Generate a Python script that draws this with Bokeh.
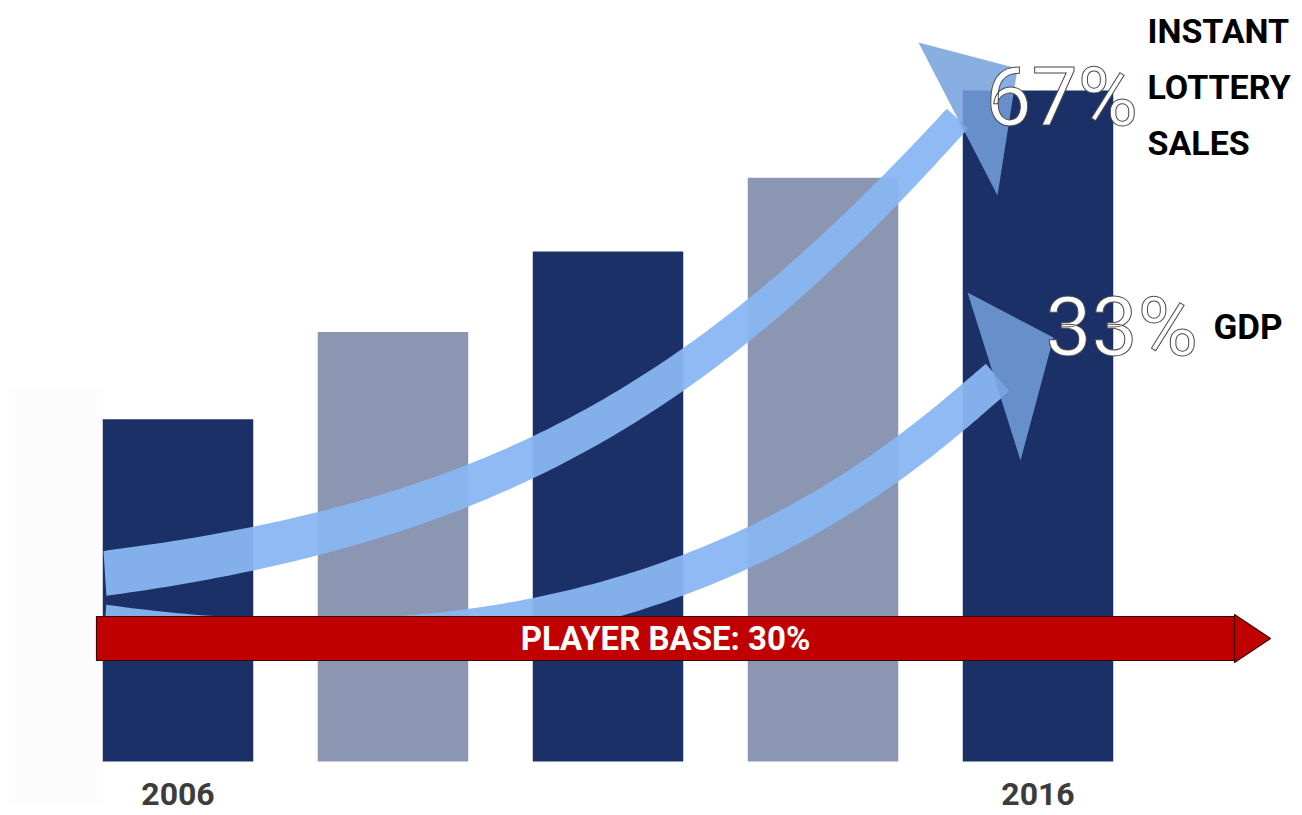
import numpy as np
from bokeh.plotting import figure
from bokeh.models import Range1d, ColumnDataSource
from bokeh.core.properties import value
from bokeh.embed import file_html
from bokeh.resources import INLINE

# ---------------- data ----------------
BAR_INDEX = [0, 1, 2, 3, 4]
BAR_VALUES = [51, 64, 76, 87, 100]
YEAR_LABELS = ["2006", "2016"]
YEAR_INDEX = [0, 4]
GROWTH_LABELS = ["67%", "33%"]
GROWTH_NAME_TOP = ["INSTANT", "LOTTERY", "SALES"]
GROWTH_NAME_BOTTOM = ["GDP"]
PLAYER_BASE_LABEL = "PLAYER BASE: 30%"

# ---------------- style ----------------
NAVY = "#1b3066"
GREY = "#8b97b2"
BAR_COLORS = [NAVY, GREY, NAVY, GREY, NAVY]
BAR_WIDTH = 0.70
BAND_COLOR = "#89b6f2"
HEAD_COLOR = "#74a0dc"
RED = "#c00000"
FONT = "Roboto"
W, H = 1302, 815

# reference-pixel -> data mapping (decoration geometry only)
X0_PX, STEP_PX, BASE_PX, UNIT_PX = 177.5, 215.0, 761.0, 6.71


def dx(px):
    return (np.asarray(px, dtype=float) - X0_PX) / STEP_PX


def dy(py):
    return (BASE_PX - np.asarray(py, dtype=float)) / UNIT_PX


def band(p0, p1, p2, p3, w0, w1, n=160):
    t = np.linspace(0, 1, n)[:, None]
    P = [np.array(q, dtype=float) for q in (p0, p1, p2, p3)]
    pts = (1 - t) ** 3 * P[0] + 3 * (1 - t) ** 2 * t * P[1] + 3 * (1 - t) * t ** 2 * P[2] + t ** 3 * P[3]
    d = 3 * (1 - t) ** 2 * (P[1] - P[0]) + 6 * (1 - t) * t * (P[2] - P[1]) + 3 * t ** 2 * (P[3] - P[2])
    d = d / np.linalg.norm(d, axis=1, keepdims=True)
    nrm = np.column_stack([d[:, 1], -d[:, 0]])
    hw = (w0 + (w1 - w0) * t[:, 0])[:, None]
    a = pts + nrm * hw
    b = pts - nrm * hw
    poly = np.vstack([a, b[::-1]])
    xs = np.maximum(poly[:, 0], p0[0])
    return list(dx(xs)), list(dy(poly[:, 1]))


p = figure(width=W, height=H,
           x_range=Range1d(float(dx(0)), float(dx(W))),
           y_range=Range1d(float(dy(H)), float(dy(0))),
           output_backend="svg", toolbar_location=None,
           x_axis_location=None, y_axis_location=None, min_border=0)
p.grid.visible = False
p.outline_line_color = None
p.background_fill_color = "white"
p.border_fill_color = "white"

# faint panel at left
p.quad(left=[float(dx(8))], right=[float(dx(103))], top=[float(dy(388))],
       bottom=[float(dy(803))], fill_color="#fcfcfc", line_color=None)

# bars
src = ColumnDataSource(dict(x=BAR_INDEX, top=BAR_VALUES, color=BAR_COLORS))
p.vbar(x="x", top="top", bottom=0, width=BAR_WIDTH, fill_color="color",
       line_color=None, source=src)

# curved growth arrows
ux, uy = band((103, 573), (503, 521), (707, 393), (957, 118), 22.5, 14.5)
p.patch(ux, uy, fill_color=BAND_COLOR, fill_alpha=0.95, line_color=None)
lx, ly = band((103, 624), (650, 700), (900, 460), (997, 377), 20, 18)
p.patch(lx, ly, fill_color=BAND_COLOR, fill_alpha=0.95, line_color=None)

heads = [[(918, 42), (1017, 68), (997, 195)], [(967, 292), (1053, 337), (1020, 460)]]
for hd in heads:
    p.patch(list(dx([q[0] for q in hd])), list(dy([q[1] for q in hd])),
            fill_color=HEAD_COLOR, fill_alpha=0.85, line_color=None)

# red player-base arrow
p.patch(list(dx([96, 1234, 1234, 96])), list(dy([616, 616, 660, 660])),
        fill_color=RED, line_color="#3d0000", line_width=1.2)
p.patch(list(dx([1234, 1270, 1234])), list(dy([614, 638, 662])),
        fill_color=RED, line_color="#3d0000", line_width=1.2)
p.text(x=[float(dx(665))], y=[float(dy(638))], text=[PLAYER_BASE_LABEL],
       text_font=value(FONT), text_font_style="bold",
       text_font_size="33px", text_color="white",
       text_align="center", text_baseline="middle")

# growth percentages (outlined)
p.text(x=list(dx([985, 1045])), y=list(dy([96, 326])), text=GROWTH_LABELS,
       text_font=value(FONT), text_font_size="82px",
       text_color="white", text_outline_color="#4a4a4a",
       text_align="left", text_baseline="middle")

# growth names
p.text(x=list(dx([1147] * 3)), y=list(dy([30, 86, 142])), text=GROWTH_NAME_TOP,
       text_font=value(FONT), text_font_style="bold",
       text_font_size="34px", text_color="black",
       text_align="left", text_baseline="middle")
p.text(x=list(dx([1213])), y=list(dy([327])), text=GROWTH_NAME_BOTTOM,
       text_font=value(FONT), text_font_style="bold",
       text_font_size="35px", text_color="black",
       text_align="left", text_baseline="middle")

# year labels
p.text(x=YEAR_INDEX, y=[float(dy(793))] * len(YEAR_INDEX), text=YEAR_LABELS,
       text_font=value(FONT), text_font_style="bold",
       text_font_size="32px", text_color="#3c3c3c",
       text_align="center", text_baseline="middle")

open("out.html", "w").write(file_html(p, INLINE))
